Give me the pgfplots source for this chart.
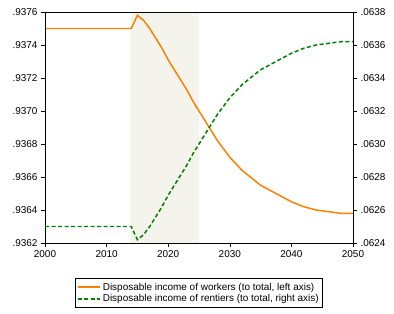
\documentclass[border=0pt]{standalone}
\usepackage{pgfplots}
\pgfplotsset{compat=1.18}
\usepackage{fontspec}
\setmainfont{Liberation Sans}
\definecolor{wk}{RGB}{255,128,0}
\definecolor{rt}{RGB}{0,128,0}
\definecolor{bgshade}{RGB}{245,244,236}
\pgfplotstableread{
year workers
2000 0.93750
2005 0.93750
2010 0.93750
2014 0.93750
2015 0.93758
2016 0.93755
2017 0.93750
2018 0.93744
2019 0.93738
2020 0.93731
2021 0.93725
2022 0.93719
2023 0.93713
2024 0.93706
2025 0.93700
2026 0.93694
2027 0.93688
2028 0.93682
2029 0.93677
2030 0.93672
2031 0.93668
2032 0.93664
2033 0.93661
2034 0.93658
2035 0.93655
2036 0.93653
2037 0.93651
2038 0.93649
2039 0.93647
2040 0.93645
2042 0.93642
2044 0.93640
2046 0.93639
2048 0.93638
2050 0.93638
}\workers
\pgfplotstableread{
year rentiers
2000 0.06250
2005 0.06250
2010 0.06250
2014 0.06250
2015 0.06242
2016 0.06245
2017 0.06250
2018 0.06256
2019 0.06262
2020 0.06269
2021 0.06275
2022 0.06281
2023 0.06287
2024 0.06294
2025 0.06300
2026 0.06306
2027 0.06312
2028 0.06318
2029 0.06323
2030 0.06328
2031 0.06332
2032 0.06336
2033 0.06339
2034 0.06342
2035 0.06345
2036 0.06347
2037 0.06349
2038 0.06351
2039 0.06353
2040 0.06355
2042 0.06358
2044 0.06360
2046 0.06361
2048 0.06362
2050 0.06362
}\rentiers
\begin{document}
\fontsize{10}{12}\selectfont
\begin{tikzpicture}
\pgfplotsset{
  every axis/.append style={
    scale only axis, width=308bp, height=231bp,
    xmin=2000, xmax=2050,
    tick align=outside, major tick length=4bp,
    tick style={black, line width=0.6pt},
    axis line style={line width=0.8pt},
    scaled ticks=false,
    /pgf/number format/assume math mode=true,
    tick label style={font=\fontsize{10}{12}\selectfont},
  }
}
\begin{axis}[name=ax,
  axis on top,
  ymin=0.9362, ymax=0.9376,
  xtick={2000,2010,...,2050},
  xticklabels={2000,2010,2020,2030,2040,2050},
  ytick={0.9362,0.9364,0.9366,0.9368,0.9370,0.9372,0.9374,0.9376},
  yticklabels={.9362,.9364,.9366,.9368,.9370,.9372,.9374,.9376},
  xtick pos=bottom, ytick pos=left,
  legend style={at={(0.5,-0.1515)}, anchor=north, draw=black, line width=0.6pt,
    font=\fontsize{10}{11}\selectfont, cells={anchor=west}, row sep=-1pt,
    inner xsep=1.5pt, inner ysep=2.5pt},
  legend image code/.code={\draw[#1] (0cm,0cm) -- (0.78cm,0cm);},
]
\fill[bgshade] (axis cs:2014,0.9362) rectangle (axis cs:2025,0.9376);
\addplot[wk, line width=1.5pt] table[x=year,y=workers] {\workers};
\addlegendentry{Disposable income of workers (to total, left axis)}
\addlegendimage{rt, line width=1.5pt, dash pattern=on 4bp off 2.5bp}
\addlegendentry{Disposable income of rentiers (to total, right axis)}
\end{axis}
\begin{axis}[
  axis x line=none, axis y line*=right,
  ymin=0.0624, ymax=0.0638,
  ytick={0.0624,0.0626,0.0628,0.0630,0.0632,0.0634,0.0636,0.0638},
  yticklabels={.0624,.0626,.0628,.0630,.0632,.0634,.0636,.0638},
]
\addplot[rt, line width=1.5pt, dash pattern=on 4bp off 2.5bp] table[x=year,y=rentiers] {\rentiers};
\end{axis}
\path ([xshift=-45bp,yshift=-71bp]ax.south west) rectangle ++(394bp,314bp);
\end{tikzpicture}
\end{document}
